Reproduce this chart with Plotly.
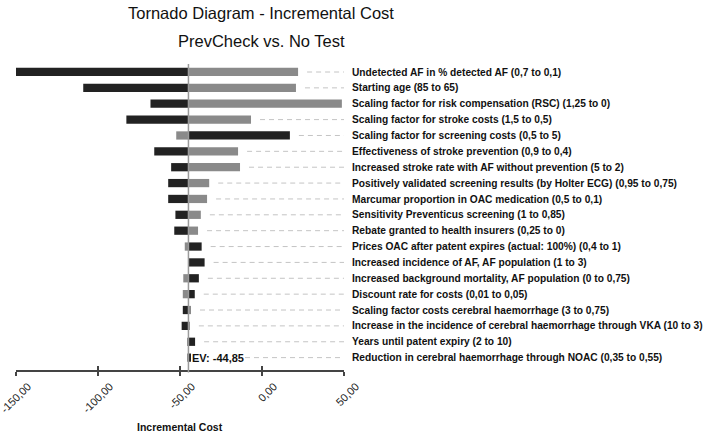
import plotly.graph_objects as go

# ---------------- data ----------------
labels = [
    "Undetected AF in % detected AF (0,7 to 0,1)",
    "Starting age (85 to 65)",
    "Scaling factor for risk compensation (RSC) (1,25 to 0)",
    "Scaling factor for stroke costs (1,5 to 0,5)",
    "Scaling factor for screening costs (0,5 to 5)",
    "Effectiveness of stroke prevention (0,9 to 0,4)",
    "Increased stroke rate with AF without prevention (5 to 2)",
    "Positively validated screening results (by Holter ECG) (0,95 to 0,75)",
    "Marcumar proportion in OAC medication (0,5 to 0,1)",
    "Sensitivity Preventicus screening (1 to 0,85)",
    "Rebate granted to health insurers (0,25 to 0)",
    "Prices OAC after patent expires (actual: 100%) (0,4 to 1)",
    "Increased incidence of AF, AF population (1 to 3)",
    "Increased background mortality, AF population (0 to 0,75)",
    "Discount rate for costs (0,01 to 0,05)",
    "Scaling factor costs cerebral haemorrhage (3 to 0,75)",
    "Increase in the incidence of cerebral haemorrhage through VKA (10 to 3)",
    "Years until patent expiry (2 to 10)",
    "Reduction in cerebral haemorrhage through NOAC (0,35 to 0,55)",
]
dark_values = [-150.0, -109.0, -68.0, -82.7, 17.0, -65.7, -55.4, -57.2, -57.2, -52.8,
               -53.5, -36.8, -35.0, -38.5, -41.0, -48.3, -49.0, -40.8, -43.3]
gray_values = [22.0, 20.7, 48.7, -6.7, -52.3, -14.6, -13.4, -32.2, -33.5, -37.3,
               -39.0, -47.1, -44.6, -48.0, -48.3, -43.3, -44.0, -45.7, -45.2]
ev = -44.85
ev_label = "EV: -44,85"
x_tickvals = [-150, -100, -50, 0, 50]
x_ticktext = ["-150,00", "-100,00", "-50,00", "0,00", "50,00"]
title_lines = ["Tornado Diagram - Incremental Cost", "PrevCheck vs. No Test"]
x_title = "Incremental Cost"

# ---------------- styling ----------------
DARK = "#222222"
GRAY = "#8a8a8a"
FONT = "Liberation Sans, Arial, sans-serif"
n = len(labels)
rows = list(range(n))

# longer deviation drawn first, shorter on top
long_x, long_c, short_x, short_c = [], [], [], []
for d, g in zip(dark_values, gray_values):
    if abs(d - ev) >= abs(g - ev):
        long_x.append(d - ev); long_c.append(DARK)
        short_x.append(g - ev); short_c.append(GRAY)
    else:
        long_x.append(g - ev); long_c.append(GRAY)
        short_x.append(d - ev); short_c.append(DARK)

fig = go.Figure()
fig.add_trace(go.Bar(y=rows, x=long_x, base=ev, orientation="h",
                     marker=dict(color=long_c, line=dict(width=0)), width=0.52,
                     showlegend=False, hoverinfo="skip"))
fig.add_trace(go.Bar(y=rows, x=short_x, base=ev, orientation="h",
                     marker=dict(color=short_c, line=dict(width=0)), width=0.52,
                     showlegend=False, hoverinfo="skip"))

# dashed leader lines
dx, dy = [], []
for i, (d, g) in enumerate(zip(dark_values, gray_values)):
    start = max(d, g, ev) + 5.5
    if start < x_tickvals[-1]:
        dx += [start, x_tickvals[-1], None]
        dy += [i, i, None]
fig.add_trace(go.Scatter(x=dx, y=dy, mode="lines",
                         line=dict(color="#c4c4c4", width=1, dash="5px,4px"),
                         showlegend=False, hoverinfo="skip"))

# invisible trace to carry the overlay axis that draws the upper half of tick marks
fig.add_trace(go.Scatter(x=[ev], y=[0], xaxis="x2", mode="markers",
                         marker=dict(opacity=0), showlegend=False, hoverinfo="skip"))

fig.add_shape(type="line", xref="x", yref="paper", x0=ev, x1=ev, y0=-0.008, y1=1,
              line=dict(color="#9a9a9a", width=1.5), layer="above")

fig.add_annotation(x=ev, y=n - 1, xref="x", yref="y", text="<b>" + ev_label + "</b>",
                   xanchor="left", xshift=3, showarrow=False, bgcolor="white",
                   borderpad=0, font=dict(family=FONT, size=11, color="#111"))
fig.add_annotation(x=0.5, y=-0.186, xref="paper", yref="paper", text="<b>" + x_title + "</b>",
                   showarrow=False, yanchor="middle",
                   font=dict(family=FONT, size=10.5, color="#111"))
# title lines (pixel centres ~13 and ~41 from top; plot top at 64px, height 306px)
for txt, py in zip(title_lines, [13, 41]):
    fig.add_annotation(x=(261 - 16) / 328, xref="paper", y=1 + (64 - py) / 306, yref="paper",
                       text=txt, showarrow=False, xanchor="center", yanchor="middle",
                       font=dict(family=FONT, size=16.5, color="#111"))

fig.update_layout(
    width=709, height=432,
    margin=dict(l=16, r=365, t=64, b=62, autoexpand=False),
    paper_bgcolor="white", plot_bgcolor="white",
    barmode="overlay",
    xaxis=dict(range=[-150, 50], tickvals=x_tickvals, ticktext=x_ticktext,
               tickangle=-45, showgrid=False, zeroline=False, automargin=False,
               ticklabeloverflow="allow", ticklabelshift=12,
               showline=True, linecolor="#444", linewidth=1.5,
               ticks="outside", ticklen=4, tickwidth=1.5, tickcolor="#444",
               tickfont=dict(family=FONT, size=11, color="#222")),
    xaxis2=dict(range=[-150, 50], overlaying="x", side="bottom", tickvals=x_tickvals,
                showticklabels=False, showgrid=False, zeroline=False, showline=False,
                ticks="inside", ticklen=4, tickwidth=1.5, tickcolor="#444", automargin=False),
    yaxis=dict(range=[18.78, -0.504], tickvals=rows, ticktext=["<b>" + l + "</b>" for l in labels],
               side="right", showgrid=False, zeroline=False, showline=False, ticks="",
               ticklabelstandoff=7, automargin=False, ticklabeloverflow="allow",
               tickfont=dict(family=FONT, size=10.2, color="#111")),
)

fig.write_html("out.html", config={"displayModeBar": False},
               post_script="document.body.style.margin='0';")
